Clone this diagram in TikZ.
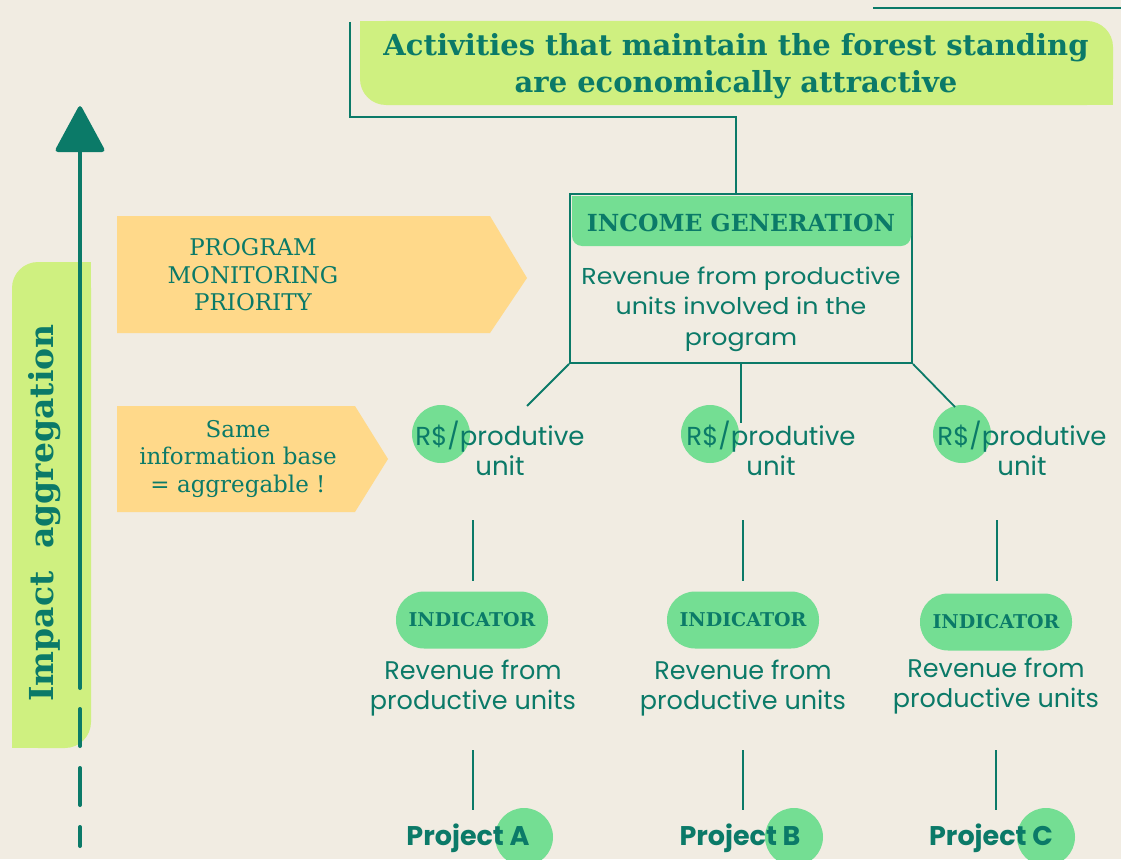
\documentclass[tikz,border=0pt]{standalone}
\usepackage{fontspec}
\setmainfont{Poppins}
\newfontfamily\slab{DejaVu Serif}
\newfontfamily\wide[FakeStretch=1.1]{Poppins}
\definecolor{paper}{HTML}{F1ECE2}
\definecolor{teal}{HTML}{0B7A68}
\definecolor{lime}{HTML}{CFF080}
\definecolor{mint}{HTML}{74DE93}
\definecolor{sand}{HTML}{FFD98A}
\tikzset{
  link/.style={draw=teal, line width=1.8pt},
  dot/.style={circle, fill=mint, minimum size=58pt, inner sep=0pt},
  pill/.style={fill=mint, rounded corners=28pt, minimum width=152pt, minimum height=57pt, inner sep=0pt,
    text=teal, font=\slab\bfseries\fontsize{19}{22}\selectfont},
  unittext/.style={text=teal, align=center, font=\fontsize{26}{30}\selectfont},
  revtext/.style={text=teal, align=center, font=\fontsize{25.5}{30}\selectfont},
  projtext/.style={text=teal, font=\bfseries\fontsize{27}{30}\selectfont},
  flagtext/.style={text=teal, align=center, font=\slab\fontsize{23}{27.5}\selectfont},
}
\begin{document}
\begin{tikzpicture}[x=1pt,y=-1pt]
\fill[paper] (0,0) rectangle (1121,859);
\useasboundingbox (0,0) rectangle (1121,859);

% vertical band behind the aggregation arrow
\fill[lime, rounded corners=26pt] (12,262) rectangle (91,748);
\fill[lime] (12,700) rectangle (50,748);
\fill[lime] (50,262) rectangle (91,300);
\node[rotate=90, text=teal, font=\slab\bfseries\fontsize{33}{36}\selectfont] (agg) at (45,513) {Impact\ \ aggregation};

% aggregation arrow
\coordinate (arrtop) at (80,150);
\coordinate (arrbot) at (80,688);
\coordinate (dashtop) at (80,709);
\coordinate (dashbot) at (80,846);
\draw[teal, line width=4pt, line cap=round] (arrbot) -- (arrtop);
\fill[teal, rounded corners=4pt] (80,104) -- (106,152) -- (54,152) -- cycle;
\draw[teal, line width=4pt, line cap=round, dash pattern=on 37pt off 22pt] (dashtop) -- (dashbot);

% headline
\draw[teal, line width=2pt] (873,8) -- (1121,8);
\fill[lime, rounded corners=26pt] (360,21) rectangle (1113,105);
\fill[lime] (360,21) rectangle (420,60);
\fill[lime] (1060,60) rectangle (1113,105);
\node[text=teal, align=center, font=\slab\bfseries\fontsize{29}{37}\selectfont] (goal) at (736,66)
  {Activities that maintain the forest standing\\are economically attractive};
\coordinate (brk) at (350,22);
\coordinate (brkturn) at (736,117);

% income generation box
\node[draw=teal, line width=2pt, minimum width=342pt, minimum height=169pt, inner sep=0pt] (inc) at (741,278.5) {};
\fill[mint, rounded corners=10pt] (572,196) rectangle (911,246);
\fill[mint] (572,196) rectangle (911,220);
\node[text=teal, font=\slab\bfseries\fontsize{23.5}{26}\selectfont] (inctitle) at (741,223) {INCOME GENERATION};
\node[text=teal, align=center, font=\wide\fontsize{23}{30.5}\selectfont] (incbody) at (741,309)
  {Revenue from productive\\units involved in the\\program};
\draw[teal, line width=2pt] (brk) |- (brkturn) -- (brkturn |- inc.north);

% priority flags
\fill[sand] (117,216) -- (490,216) -- (527,278) -- (490,333) -- (117,333) -- cycle;
\node[flagtext] (prio) at (253,275) {PROGRAM\\MONITORING\\PRIORITY};
\fill[sand] (117,406) -- (355,406) -- (388,459) -- (355,512) -- (117,512) -- cycle;
\node[flagtext] (base) at (238,459) {Same\\information base\\= aggregable !};

% unit measures
\node[dot] (d1) at (441,434) {};
\node[dot] (d2) at (710,434) {};
\node[dot] (d3) at (962,434) {};
\node[unittext] (u1) at (500,448) {R\$/produtive\\unit};
\node[unittext] (u2) at (771,448) {R\$/produtive\\unit};
\node[unittext] (u3) at (1022,448) {R\$/produtive\\unit};
\coordinate (e1) at (527,406);
\coordinate (e2) at (741,423);
\coordinate (e3) at (955,407);
\draw[link] (inc.south west) -- (e1);
\draw[link] (inc.south) -- (e2);
\draw[link] (inc.south east) -- (e3);

% indicators
\node[pill] (i1) at (472,620) {INDICATOR};
\node[pill] (i2) at (743,620) {INDICATOR};
\node[pill] (i3) at (996,622) {INDICATOR};
\node[revtext] (r1) at (473,688) {Revenue from\\productive units};
\node[revtext] (r2) at (743,688) {Revenue from\\productive units};
\node[revtext] (r3) at (996,686) {Revenue from\\productive units};
\foreach \i/\x in {1/473,2/743,3/997}{
  \coordinate (ua\i) at (\x,520);
  \coordinate (ub\i) at (\x,581);
  \draw[link] (ua\i) -- (ub\i);
}

% projects
\node[dot] (p1) at (524,837) {};
\node[dot] (p2) at (794,837) {};
\node[dot] (p3) at (1046,837) {};
\node[projtext] (t1) at (468,838) {Project A};
\node[projtext] (t2) at (740,838) {Project B};
\node[projtext] (t3) at (991,838) {Project C};
\foreach \i/\x in {1/473,2/743,3/996}{
  \coordinate (ra\i) at (\x,750);
  \coordinate (rb\i) at (\x,810);
  \draw[link] (ra\i) -- (rb\i);
}
\end{tikzpicture}
\end{document}
